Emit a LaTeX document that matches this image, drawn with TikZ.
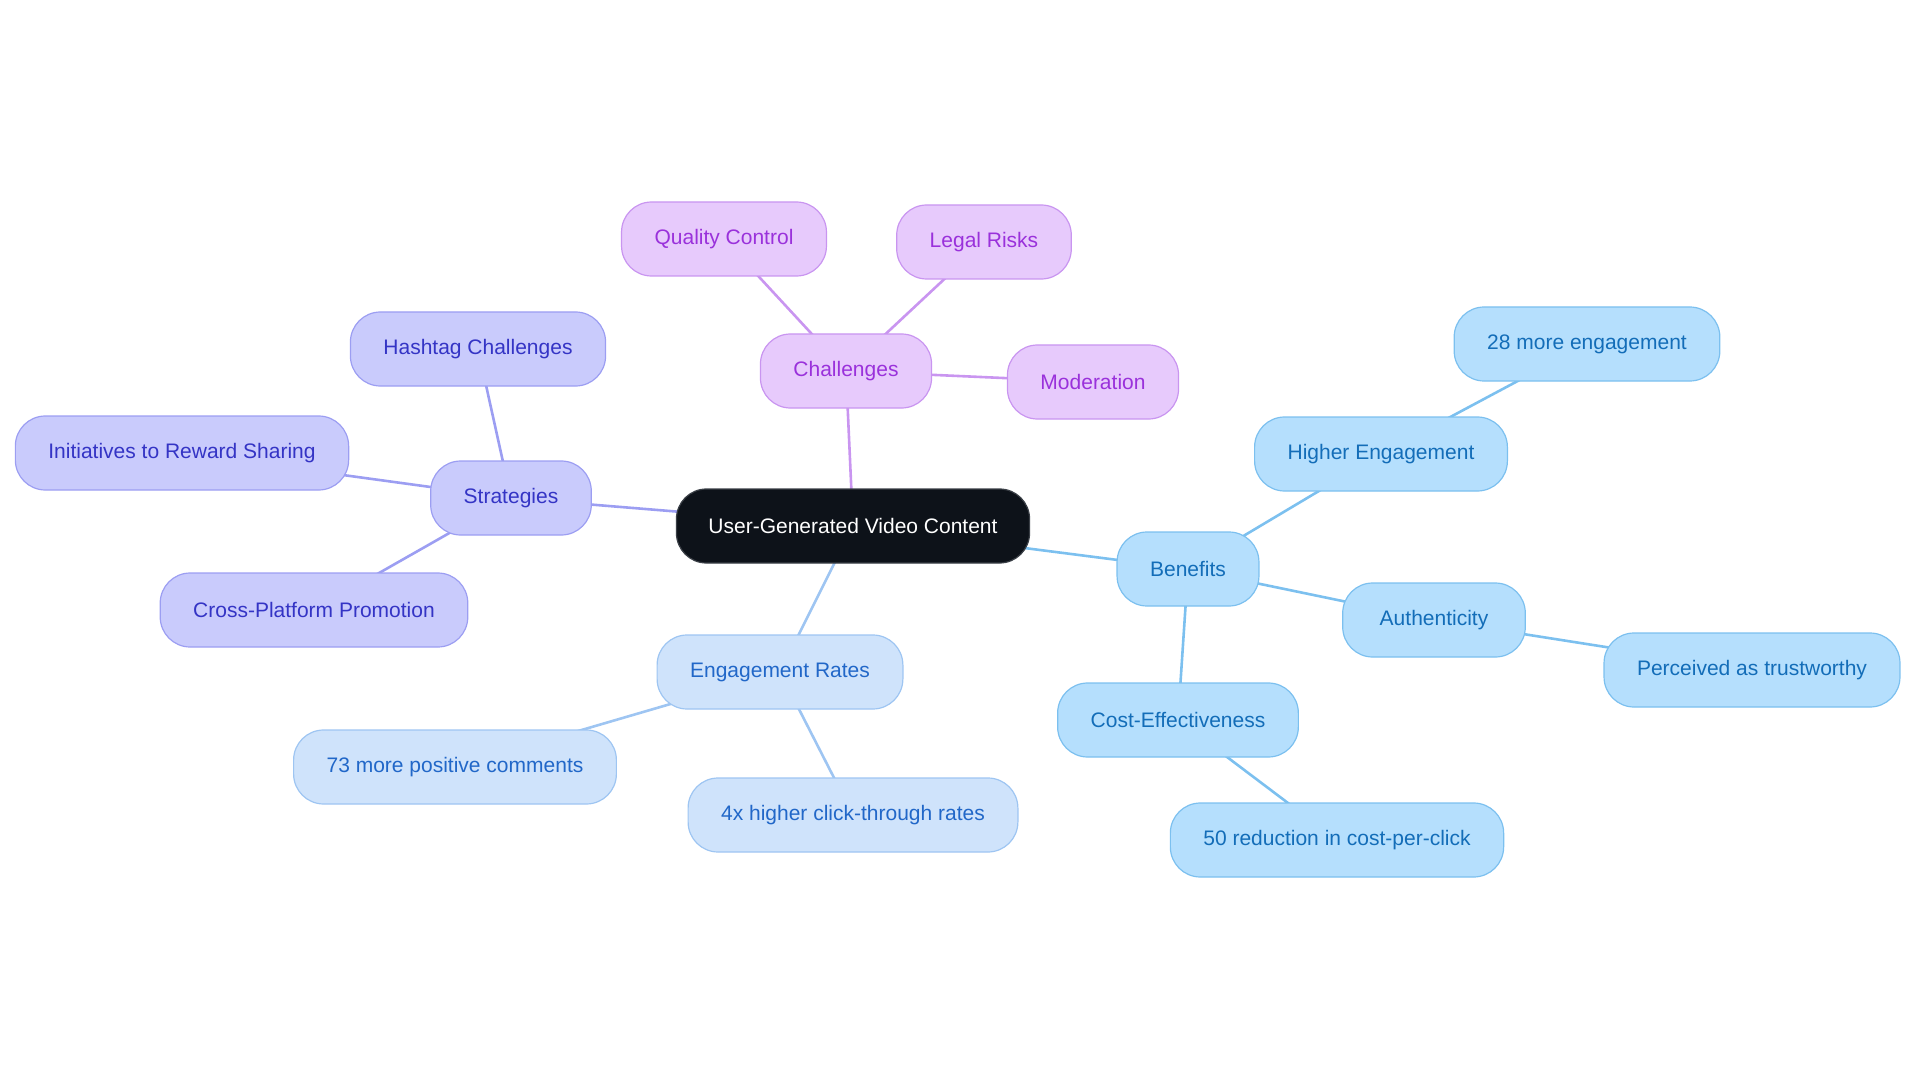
\documentclass[tikz,border=0pt]{standalone}
\usepackage{fontspec}
\setmainfont{Liberation Sans}
\usepackage{tikz}
\usetikzlibrary{backgrounds}

\definecolor{rootfill}{HTML}{0D1219}
\definecolor{rootline}{HTML}{3A3F46}
\definecolor{chalfill}{HTML}{E7CAFC}
\definecolor{challine}{HTML}{C995F0}
\definecolor{chaltext}{HTML}{9A31DB}
\definecolor{stratfill}{HTML}{C9CBFC}
\definecolor{stratline}{HTML}{9C9EF2}
\definecolor{strattext}{HTML}{3434C5}
\definecolor{engfill}{HTML}{CFE3FB}
\definecolor{engline}{HTML}{9EC5F2}
\definecolor{engtext}{HTML}{2167C8}
\definecolor{benfill}{HTML}{B5DFFD}
\definecolor{benline}{HTML}{7CC0EF}
\definecolor{bentext}{HTML}{136DB8}

\begin{document}
\begin{tikzpicture}[x=1pt, y=-1pt,
	every node/.style={rounded corners=30pt, minimum height=74pt, inner xsep=33pt, line width=1.2pt, font=\fontsize{21}{25}\selectfont},
	root/.style={fill=rootfill, draw=rootline, text=white, inner xsep=32pt},
	chal/.style={fill=chalfill, draw=challine, text=chaltext},
	strat/.style={fill=stratfill, draw=stratline, text=strattext},
	eng/.style={fill=engfill, draw=engline, text=engtext},
	ben/.style={fill=benfill, draw=benline, text=bentext},
	link/.style={line width=2.6pt}]
	\useasboundingbox (0,0) rectangle (1920,1083);
	\node[root] (root) at (853,526) {User-Generated Video Content};
	\node[chal] (chal) at (846,371) {Challenges};
	\node[chal] (qc) at (724,239) {Quality Control};
	\node[chal] (legal) at (984,242) {Legal Risks};
	\node[chal] (mod) at (1093,382) {Moderation};
	\node[strat] (strat) at (511,498) {Strategies};
	\node[strat] (hash) at (478,349) {Hashtag Challenges};
	\node[strat] (init) at (182,453) {Initiatives to Reward Sharing};
	\node[strat] (cross) at (314,610) {Cross-Platform Promotion};
	\node[eng] (eng) at (780,672) {Engagement Rates};
	\node[eng] (pos) at (455,767) {73 more positive comments};
	\node[eng] (ctr) at (853,815) {4x higher click-through rates};
	\node[ben] (ben) at (1188,569) {Benefits};
	\node[ben] (high) at (1381,454) {Higher Engagement};
	\node[ben] (more) at (1587,344) {28 more engagement};
	\node[ben, inner xsep=37pt] (auth) at (1434,620) {Authenticity};
	\node[ben] (trust) at (1752,670) {Perceived as trustworthy};
	\node[ben] (cost) at (1178,720) {Cost-Effectiveness};
	\node[ben] (cpc) at (1337,840) {50 reduction in cost-per-click};
	\begin{scope}[on background layer]
		\draw[link, challine] (root.center) -- (chal.center) (qc.center) -- (chal.center) -- (legal.center) (chal.center) -- (mod.center);
		\draw[link, stratline] (root.center) -- (strat.center) -- (hash.center) (init.center) -- (strat.center) -- (cross.center);
		\draw[link, engline] (root.center) -- (eng.center) -- (pos.center) (eng.center) -- (ctr.center);
		\draw[link, benline] (root.center) -- (ben.center) -- (high.center) -- (more.center)
			(ben.center) -- (auth.center) -- (trust.center) (ben.center) -- (cost.center) -- (cpc.center);
	\end{scope}
\end{tikzpicture}
\end{document}
